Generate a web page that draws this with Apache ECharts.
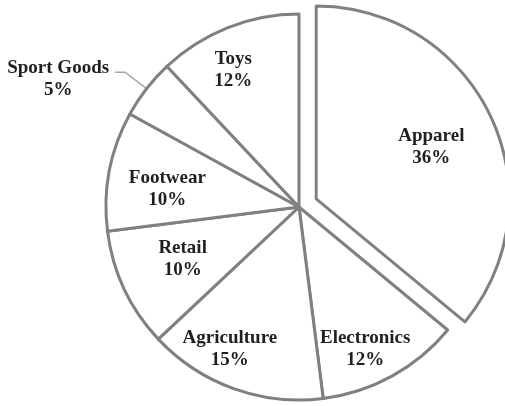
<!DOCTYPE html>
<html>
<head>
<meta charset="utf-8">
<script src="https://cdn.jsdelivr.net/npm/echarts@6/dist/echarts.min.js"></script>
<style>html,body{margin:0;padding:0;background:#fff;}#c{width:505px;height:406px;}</style>
</head>
<body>
<div id="c"></div>
<script>
var categories = ['Apparel', 'Electronics', 'Agriculture', 'Retail', 'Footwear', 'Sport Goods', 'Toys'];
var values = [36, 12, 15, 10, 10, 5, 12];
var farLabels = ['Apparel', 'Electronics', 'Agriculture', 'Toys'];
var nearLabels = ['Retail', 'Footwear'];
var outsideLabels = ['Sport Goods'];
var explodedSlice = 'Apparel';

var chart = echarts.init(document.getElementById('c'), null, {renderer: 'canvas'});
var border = '#808080';
var fontFamily = '"Liberation Serif", "Times New Roman", serif';
// small label nudges (text placement only), by category order
var labelNudge = [[-7, 6], [-8, 7], [-17, -3], [4, -5], [-1, 7], [0, 0], [-9, 6]];
function fmt(p) { return '{t|' + p.name + '}\n{t|' + p.value + '%}'; }
var textBase = {color: '#231f20', fontFamily: fontFamily, fontWeight: 'bold', fontSize: 19, lineHeight: 22};

var mainData = categories.map(function (c, i) {
  var d = {name: c, value: values[i]};
  if (c === explodedSlice) d.selected = true;
  if (outsideLabels.indexOf(c) >= 0) {
    d.label = {show: true, position: 'outside'};
    d.labelLine = {show: true};
  }
  return d;
});
function labelData(list) {
  return categories.map(function (c, i) {
    return {name: c, value: values[i], label: {show: list.indexOf(c) >= 0}};
  });
}
var itemStyle = {color: '#ffffff', borderColor: border, borderWidth: 3};
var labelSeries = function (list, radius) {
  return {
    type: 'pie', center: [299, 207], radius: radius, startAngle: 90, clockwise: true,
    silent: true, animation: false,
    itemStyle: {color: 'transparent', borderWidth: 0},
    label: Object.assign({position: 'inside', formatter: fmt, rich: {t: textBase}}, textBase),
    labelLine: {show: false},
    labelLayout: function (p) {
      var n = labelNudge[p.dataIndex] || [0, 0];
      return {dx: n[0], dy: n[1]};
    },
    emphasis: {disabled: true},
    data: labelData(list)
  };
};

chart.setOption({
  backgroundColor: '#ffffff',
  animation: false,
  series: [
    {
      type: 'pie', center: [299, 207], radius: 193, startAngle: 90, clockwise: true,
      selectedMode: 'single', selectedOffset: 19,
      avoidLabelOverlap: false,
      animation: false,
      itemStyle: itemStyle,
      select: {itemStyle: itemStyle},
      emphasis: {disabled: true},
      label: Object.assign({
        show: false,
        formatter: fmt,
        distanceToLabelLine: 4,
        padding: [14, 0, 0, 0],
        rich: {t: Object.assign({width: 106, align: 'center'}, textBase)}
      }, textBase),
      labelLine: {show: false, length: 27, length2: 10, lineStyle: {color: '#a6a6a6', width: 1.5}},
      data: mainData
    },
    labelSeries(farLabels, [120, 182]),
    labelSeries(nearLabels, [100, 160])
  ]
});
</script>
</body>
</html>
